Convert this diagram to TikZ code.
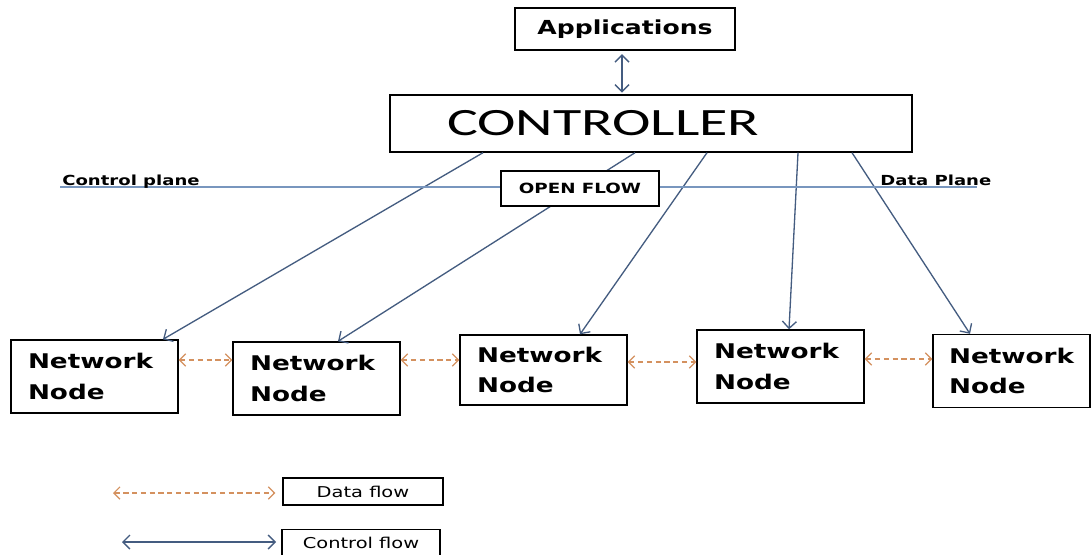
\documentclass[tikz,border=0pt]{standalone}
\usepackage{fontspec}
\setmainfont{DejaVu Sans}
\newfontfamily\widefont{DejaVu Sans}[FakeStretch=1.3]
\newfontfamily\ctrlfont{Carlito}[FakeStretch=1.5]
\usetikzlibrary{arrows.meta}
\definecolor{ctrlblue}{RGB}{68,92,128}
\definecolor{planeblue}{RGB}{120,150,190}
\definecolor{dataorange}{RGB}{212,145,95}

\begin{document}
\begin{tikzpicture}[x=0.02cm, y=-0.02cm,
        box/.style={draw, line width=0.8pt, fill=white, inner sep=0pt},
        netnode/.style={box, minimum height=1.46cm, align=left, text width=2.66cm, inner xsep=0.34cm,
            font=\widefont\bfseries\fontsize{11.5}{17.5}\selectfont},
        legendbox/.style={box, minimum height=0.54cm, font=\widefont\fontsize{8.5}{10}\selectfont},
        planelabel/.style={anchor=base west, inner sep=0pt, font=\widefont\bfseries\fontsize{7.9}{9}\selectfont},
        ctrlflow/.style={draw=ctrlblue, line width=0.75pt, -{Straight Barb[length=4pt,width=8pt]}},
        ctrlboth/.style={ctrlflow, {Straight Barb[length=4pt,width=8pt]}-{Straight Barb[length=4pt,width=8pt]}},
        dataflow/.style={draw=dataorange, line width=0.7pt, dash pattern=on 3pt off 2pt,
            {Straight Barb[length=3.5pt,width=7pt]}-{Straight Barb[length=3.5pt,width=7pt]}}]
        \fill[white] (0,0) rectangle (1091,554);
        \useasboundingbox (0,0) rectangle (1091,554);

        % Nodes
        \node[box, minimum width=4.4cm, minimum height=0.84cm, font=\widefont\bfseries\fontsize{11}{13}\selectfont] (app) at (625,29) {Applications};
        \node[box, minimum width=10.44cm, minimum height=1.14cm, text width=8.16cm, inner xsep=1.14cm, align=left,
            font=\ctrlfont\fontsize{22}{26}\selectfont] (ctrl) at (651,123.5) {CONTROLLER};
        \node[netnode] (n1) at (94.5,376.5) {Network\\Node};
        \node[netnode] (n2) at (316.5,378.5) {Network\\Node};
        \node[netnode, minimum height=1.4cm] (n3) at (543.5,370) {Network\\Node};
        \node[netnode] (n4) at (780.5,366.5) {Network\\Node};
        \node[netnode, text width=2.5cm, inner xsep=0.32cm] (n5) at (1011.5,371) {Network\\Node};
        \node[legendbox, minimum width=3.2cm] (dfbox) at (363,491.5) {Data flow};
        \node[legendbox, minimum width=3.16cm] (cfbox) at (361,543) {Control flow};
        \coordinate (dfstart) at (113,493);
        \coordinate (cfstart) at (122,542);
        \coordinate (pleft) at (60,187);
        \coordinate (pright) at (977,187);

        % Edges
        \draw[ctrlboth, shorten <=2pt, shorten >=1pt] (app.south -| 622,0) -- (ctrl.north -| 622,0);
        \foreach \ux/\nd/\lx in {483/n1/163, 635/n2/338, 707/n3/580, 798/n4/789, 852/n5/970}
            \draw[ctrlflow] (ctrl.south -| \ux,0) -- (\nd.north -| \lx,0);
        \foreach \a/\b/\yy in {n1/n2/360, n2/n3/360, n3/n4/362, n4/n5/359}
            \draw[dataflow] (\a.east |- 0,\yy) -- (\b.west |- 0,\yy);
        \draw[dataflow, shorten >=4pt] (dfstart) -- (dfstart -| dfbox.west);
        \draw[ctrlboth, shorten >=3pt] (cfstart) -- (cfstart -| cfbox.west);

        % Labels
        \draw[planeblue, line width=0.8pt] (pleft) -- (pright);
        \node[planelabel] (cplane) at (62,185) {Control plane};
        \node[planelabel] (dplane) at (880,185) {Data Plane};
        \node[box, minimum width=3.16cm, minimum height=0.7cm, font=\widefont\bfseries\fontsize{8}{9}\selectfont] (of) at (580,188.5) {OPEN FLOW};
    \end{tikzpicture}
\end{document}
